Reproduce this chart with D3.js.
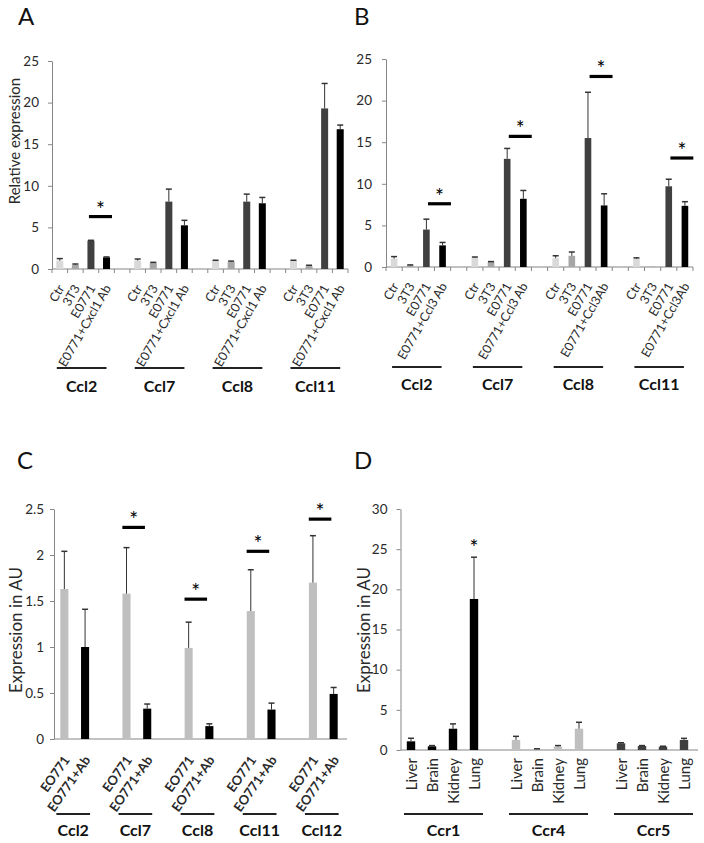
<!DOCTYPE html>
<html><head><meta charset="utf-8">
<script src="https://cdn.jsdelivr.net/npm/d3@7"></script>
<style>body{margin:0;background:#fff} text{font-family:Lato,"Open Sans",sans-serif}</style>
</head><body><svg id="c" width="704" height="843"></svg>
<script>
// ---------- DATA ----------
// Panel A
const aGroups = ["Ccl2","Ccl7","Ccl8","Ccl11"];
const aConditions = ["Ctr","3T3","E0771","E0771+Cxcl1 Ab"];
const aValues = [[1.0,0.5,3.4,1.4],[1.0,0.75,8.1,5.25],[1.0,0.85,8.1,7.9],[1.0,0.35,19.3,16.8]];
const aErrors = [[0.25,0.1,0.05,0.05],[0.2,0.05,1.5,0.6],[0.05,0.1,0.9,0.7],[0.05,0.1,3.0,0.5]];
const aSig = [{group:0, y:6.3}];
const aTicks = [0,5,10,15,20,25];
// Panel B
const bGroups = ["Ccl2","Ccl7","Ccl8","Ccl11"];
const bLabels = [["Ctr","3T3","E0771","E0771+Ccl3 Ab"],["Ctr","3T3","E0771","E0771+Ccl3 Ab"],["Ctr","3T3","E0771","E0771+Ccl3Ab"],["Ctr","3T3","E0771","E0771+Ccl3Ab"]];
const bValues = [[1.0,0.2,4.5,2.6],[1.1,0.6,13.0,8.2],[1.05,1.35,15.5,7.4],[1.0,0.05,9.7,7.35]];
const bErrors = [[0.25,0.05,1.25,0.35],[0.1,0.05,1.25,1.0],[0.3,0.45,5.5,1.4],[0.1,0.0,0.85,0.5]];
const bSig = [{group:0,y:7.6},{group:1,y:15.7},{group:2,y:22.9},{group:3,y:13.1}];
const bTicks = [0,5,10,15,20,25];
// Panel C
const cGroups = ["Ccl2","Ccl7","Ccl8","Ccl11","Ccl12"];
const cConditions = ["EO771","EO771+Ab"];
const cValues = [[1.63,1.0],[1.58,0.33],[0.99,0.14],[1.39,0.32],[1.70,0.49]];
const cErrors = [[0.41,0.41],[0.50,0.05],[0.28,0.025],[0.45,0.07],[0.51,0.07]];
const cSig = [{group:1,y:2.30},{group:2,y:1.52},{group:3,y:2.04},{group:4,y:2.39}];
const cTicks = [0,0.5,1,1.5,2,2.5];
// Panel D
const dGroups = ["Ccr1","Ccr4","Ccr5"];
const dTissues = ["Liver","Brain","Kidney","Lung"];
const dValues = [[1.08,0.46,2.65,18.8],[1.25,0.1,0.42,2.65],[0.83,0.5,0.42,1.25]];
const dErrors = [[0.38,0.09,0.6,5.2],[0.45,0.05,0.13,0.8],[0.07,0.05,0.05,0.2]];
const dStars = [{group:0, cond:3, y:26.8}];
const dTicks = [0,5,10,15,20,25,30];

// ---------- DRAW ----------
const svg = d3.select("#c");
const axisColor = "#868686";
const textColor = "#2a2a2a";

function drawPanel(p) {
  const nC = p.nCond;
  const keys = [];
  p.groups.forEach((g, gi) => {
    for (let ci = 0; ci < nC; ci++) keys.push(gi + "_" + ci);
    if (gi < p.groups.length - 1) keys.push("gap" + gi);
  });
  const x = d3.scaleBand().domain(keys).range(p.xRange);
  const y = d3.scaleLinear().domain(p.yDomain).range(p.yRange);
  const step = x.step();
  const bw = step * p.barFrac;
  const cx = (gi, ci) => x(gi + "_" + ci) + step / 2;
  const g = svg.append("g");

  // y axis
  const ya = g.append("g").attr("transform", `translate(${p.xRange[0]},0)`)
    .call(d3.axisLeft(y).tickValues(p.ticks).tickSize(4).tickSizeOuter(0).tickPadding(p.tickPad).tickFormat(d3.format("~g")));
  ya.select(".domain").attr("stroke", axisColor);
  ya.selectAll(".tick line").attr("stroke", axisColor);
  ya.selectAll(".tick text").attr("fill", textColor).style("font-size", p.tickFont + "px").style("font-family", "Lato");

  // x axis line
  g.append("line").attr("x1", p.xRange[0]).attr("x2", p.axisEnd)
    .attr("y1", y(0)).attr("y2", y(0)).attr("stroke", axisColor).attr("stroke-width", 1.2);
  if (p.xTicks) {
    const bounds = keys.map(k => x(k)).concat([p.xRange[1]]);
    g.selectAll(".xt").data(bounds).join("line")
      .attr("x1", d => d).attr("x2", d => d).attr("y1", y(0)).attr("y2", y(0) + 4)
      .attr("stroke", axisColor);
  }

  // bars
  const bars = [];
  p.groups.forEach((gname, gi) => {
    for (let ci = 0; ci < nC; ci++) bars.push({gi, ci, v: p.values[gi][ci], e: p.errors[gi][ci]});
  });
  g.selectAll(".bar").data(bars).join("rect")
    .attr("x", d => cx(d.gi, d.ci) - bw / 2).attr("width", bw)
    .attr("y", d => y(d.v)).attr("height", d => y(0) - y(d.v))
    .attr("fill", d => p.color(d.gi, d.ci));
  // error bars (upper)
  const eb = bars.filter(d => d.e > 0);
  g.selectAll(".ev").data(eb).join("line")
    .attr("x1", d => cx(d.gi, d.ci)).attr("x2", d => cx(d.gi, d.ci))
    .attr("y1", d => y(d.v)).attr("y2", d => y(d.v + d.e))
    .attr("stroke", "#333").attr("stroke-width", 1);
  g.selectAll(".ec").data(eb).join("line")
    .attr("x1", d => cx(d.gi, d.ci) - p.cap / 2).attr("x2", d => cx(d.gi, d.ci) + p.cap / 2)
    .attr("y1", d => y(d.v + d.e)).attr("y2", d => y(d.v + d.e))
    .attr("stroke", "#333").attr("stroke-width", 1.5);

  // x labels
  bars.forEach(d => {
    const lx = cx(d.gi, d.ci) + p.lab.dx, ly = y(0) + p.lab.dy;
    g.append("text").attr("transform", `translate(${lx},${ly}) rotate(${p.lab.rot})`)
      .attr("text-anchor", "end").attr("fill", textColor)
      .style("font-size", p.lab.size + "px").style("font-weight", p.lab.weight || "normal")
      .text(p.label(d.gi, d.ci));
  });

  // group underline & labels
  p.groups.forEach((gname, gi) => {
    const x1 = cx(gi, 0) + p.grp.o1, x2 = cx(gi, nC - 1) + p.grp.o2;
    g.append("line").attr("x1", x1).attr("x2", x2).attr("y1", p.grp.lineY).attr("y2", p.grp.lineY)
      .attr("stroke", "#222").attr("stroke-width", 2);
    g.append("text").attr("x", (x1 + x2) / 2).attr("y", p.grp.textY).attr("text-anchor", "middle")
      .attr("fill", "#111").style("font-size", p.grp.size + "px").style("font-weight", "bold").text(gname);
  });

  // significance
  (p.sig || []).forEach(s => {
    const x1 = x(s.group + "_" + p.sigX[0]) + p.sigX[1] * step;
    const x2 = x(s.group + "_" + p.sigX[2]) + p.sigX[3] * step;
    g.append("line").attr("x1", x1).attr("x2", x2).attr("y1", y(s.y)).attr("y2", y(s.y))
      .attr("stroke", "#000").attr("stroke-width", 3.2);
    g.append("text").attr("x", (x1 + x2) / 2).attr("y", y(s.y) + p.starDy).attr("text-anchor", "middle")
      .style("font-size", "21px").style("font-family", "Lato").attr("fill", "#000").text("*");
  });
  (p.stars || []).forEach(s => {
    g.append("text").attr("x", cx(s.group, s.cond)).attr("y", y(s.y) + 20).attr("text-anchor", "middle")
      .style("font-size", "21px").style("font-family", "Lato").attr("fill", "#000").text("*");
  });

  // y title
  if (p.yTitle) {
    g.append("text").attr("transform", `translate(${p.yTitle.x},${p.yTitle.y}) rotate(-90)`)
      .attr("text-anchor", "middle").attr("fill", textColor).style("font-size", p.yTitle.size + "px")
      .text(p.yTitle.text);
  }
  // panel letter
  g.append("text").attr("x", p.letter.x).attr("y", p.letter.y).style("font-size", "24px")
    .attr("fill", "#111").text(p.letter.t);
}

const abColors = ["#d9d9d9", "#a6a6a6", "#404040", "#000000"];

drawPanel({
  groups: aGroups, nCond: 4, values: aValues, errors: aErrors,
  xRange: [52, 348], axisEnd: 348, yRange: [269, 61], yDomain: [0, 25], ticks: aTicks,
  tickPad: 9, tickFont: 13.5, xTicks: true, barFrac: 0.45, cap: 6,
  color: (gi, ci) => abColors[ci],
  label: (gi, ci) => aConditions[ci],
  lab: {dx: 5, dy: 19, rot: -60, size: 12.5},
  grp: {o1: -3, o2: 0, lineY: 368, textY: 392, size: 16},
  sig: aSig, sigX: [2, 0.37, 3, 0.85], starDy: 0,
  yTitle: {x: 20, y: 141, size: 15, text: "Relative expression"},
  letter: {x: 18, y: 25, t: "A"}
});

drawPanel({
  groups: bGroups, nCond: 4, values: bValues, errors: bErrors,
  xRange: [386, 693], axisEnd: 693, yRange: [267, 59], yDomain: [0, 25], ticks: bTicks,
  tickPad: 10, tickFont: 13.5, xTicks: true, barFrac: 0.41, cap: 6,
  color: (gi, ci) => abColors[ci],
  label: (gi, ci) => bLabels[gi][ci],
  lab: {dx: 5, dy: 19, rot: -60, size: 12.5},
  grp: {o1: -2, o2: -1, lineY: 367, textY: 390, size: 16},
  sig: bSig, sigX: [2, 0.6, 3, 1.02], starDy: 0,
  letter: {x: 354, y: 25, t: "B"}
});

drawPanel({
  groups: cGroups, nCond: 2, values: cValues, errors: cErrors,
  xRange: [54, 344], axisEnd: 347, yRange: [739, 509], yDomain: [0, 2.5], ticks: cTicks,
  tickPad: 6, tickFont: 13.5, xTicks: false, barFrac: 0.39, cap: 6,
  color: (gi, ci) => ["#bfbfbf", "#000000"][ci],
  label: (gi, ci) => cConditions[ci],
  lab: {dx: 6, dy: 21, rot: -55, size: 13, weight: "bold"},
  grp: {o1: -8, o2: 5, lineY: 814, textY: 836, size: 16},
  sig: cSig, sigX: [0, 0.3, 1, 0.39], starDy: 0,
  yTitle: {x: 22, y: 630, size: 17, text: "Expression in AU"},
  letter: {x: 17, y: 469, t: "C"}
});

drawPanel({
  groups: dGroups, nCond: 4, values: dValues, errors: dErrors,
  xRange: [400.5, 694.5], axisEnd: 698, yRange: [750, 509], yDomain: [0, 30], ticks: dTicks,
  tickPad: 9, tickFont: 13.5, xTicks: false, barFrac: 0.4, cap: 6,
  color: (gi, ci) => ["#000000", "#bfbfbf", "#404040"][gi],
  label: (gi, ci) => dTissues[ci],
  lab: {dx: 6, dy: 8, rot: -90, size: 15},
  grp: {o1: -7, o2: 9, lineY: 814, textY: 836, size: 16},
  stars: dStars,
  yTitle: {x: 370, y: 630, size: 17, text: "Expression in AU"},
  letter: {x: 354, y: 469, t: "D"}
});
</script></body></html>
